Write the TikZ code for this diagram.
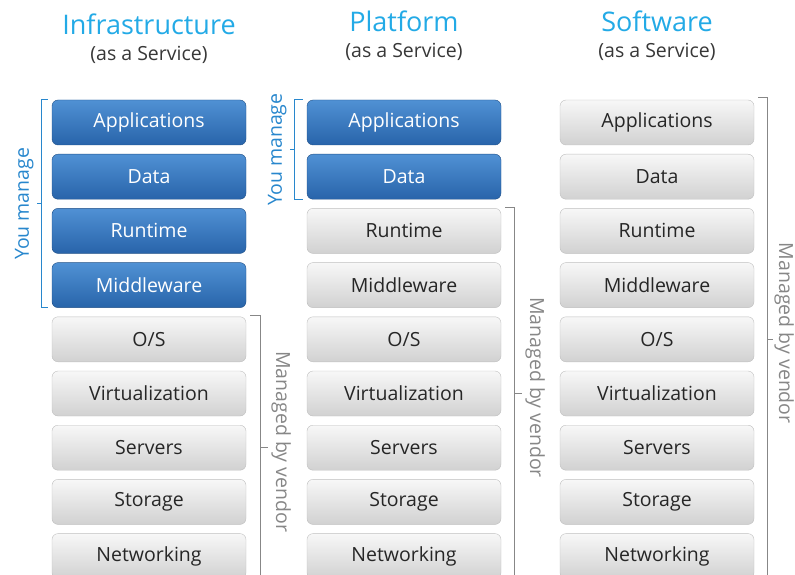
\documentclass[tikz,border=0pt]{standalone}
\usepackage{fontspec}
\setmainfont{Open Sans}
\usetikzlibrary{positioning,calc}
\definecolor{titleblue}{RGB}{35,170,230}
\definecolor{subgray}{RGB}{55,55,55}
\definecolor{bracketblue}{RGB}{40,135,205}
\definecolor{vendorgray}{RGB}{135,135,135}
\definecolor{blueup}{RGB}{80,145,212}
\definecolor{bluedown}{RGB}{40,100,170}

\begin{document}
\begin{tikzpicture}[x=1pt, y=-1pt,
  layer/.style={rectangle, rounded corners=6pt, minimum width=194pt,
                minimum height=45pt, inner sep=0pt,
                font=\fontsize{19.5}{22}\selectfont},
  mine/.style={layer, draw=bluedown!80!black, top color=blueup,
               bottom color=bluedown, text=white},
  theirs/.style={layer, draw=black!25, top color=black!3,
                 bottom color=black!18, text=black!85},
  hdr/.style={font=\fontsize{27}{30}\selectfont, text=titleblue},
  sub/.style={font=\fontsize{19.5}{22}\selectfont, text=subgray},
  youbr/.style={draw=bracketblue, line width=1.3pt},
  vendbr/.style={draw=vendorgray, line width=1.3pt},
  youlbl/.style={font=\fontsize{19.5}{22}\selectfont, text=bracketblue,
                 rotate=90, inner sep=1pt},
  vendlbl/.style={font=\fontsize{19.5}{22}\selectfont, text=vendorgray,
                  rotate=-90, inner sep=1pt},
]
\useasboundingbox (0,0) rectangle (795,575);

% three stacks: column prefix / centre x / number of layers you manage
\foreach \c/\cx/\nb in {i/149/4, p/404/2, s/657/0}{
  \foreach \t [count=\r from 0] in {Applications,Data,Runtime,Middleware,
      O/S,Virtualization,Servers,Storage,Networking}{
    \ifnum\r<\nb\def\sty{mine}\else\def\sty{theirs}\fi
    \node[\sty] (\c\r) at (\cx,{122.5+54.2*\r}) {\t};
  }
}

% headings
\node[hdr] (ti) at (149,24) {Infrastructure};
\node[sub] (si) at (149,55) {(as a Service)};
\node[hdr] (tp) at (404,21) {Platform};
\node[sub] (sp) at (404,52) {(as a Service)};
\node[hdr] (ts) at (657,21) {Software};
\node[sub] (ss) at (657,52) {(as a Service)};

% Infrastructure: you manage
\draw[youbr] ($(i0.north west)+(-4,0)$) -- ++(-6,0) |- ($(i3.south west)+(-4,0)$);
\draw[youbr] ($(i0.north west)!0.5!(i3.south west)+(-10,0)$) -- ++(-5,0)
  coordinate (yit);
\node[youlbl, anchor=south] (yi) at ($(yit)+(-2,0)$) {You manage};
% Infrastructure: managed by vendor
\draw[vendbr] ($(i4.north east)+(4,-1)$) -- ++(10,0) -- ($(i8.south east)+(14,10)$);
\draw[vendbr] ($(i6.east)+(14,0)$) -- ++(8,0) coordinate (vit);
\node[vendlbl, anchor=south] (vi) at ($(vit)+(2,-6)$) {Managed by vendor};

% Platform: you manage
\draw[youbr] ($(p0.north west)+(-4,0)$) -- ++(-8,0) |- ($(p1.south west)+(-4,0)$);
\draw[youbr] ($(p0.north west)!0.5!(p1.south west)+(-12,0)$) -- ++(-5,0)
  coordinate (ypt);
\node[youlbl, anchor=south] (yp) at ($(ypt)+(-2,0)$) {You manage};
% Platform: managed by vendor
\draw[vendbr] ($(p2.north east)+(4,-1)$) -- ++(9,0) -- ($(p8.south east)+(13,10)$);
\draw[vendbr] ($(p5.east)+(13,0)$) -- ++(8,0) coordinate (vpt);
\node[vendlbl, anchor=south] (vp) at ($(vpt)+(2,-6)$) {Managed by vendor};

% Software: managed by vendor
\draw[vendbr] ($(s0.north east)+(4,-2)$) -- ++(9,0) -- ($(s8.south east)+(13,10)$);
\draw[vendbr] ($(s4.east)+(13,0)$) -- ++(6,0) coordinate (vst);
\node[vendlbl, anchor=south] (vs) at ($(vst)+(0,-6)$) {Managed by vendor};
\end{tikzpicture}
\end{document}
